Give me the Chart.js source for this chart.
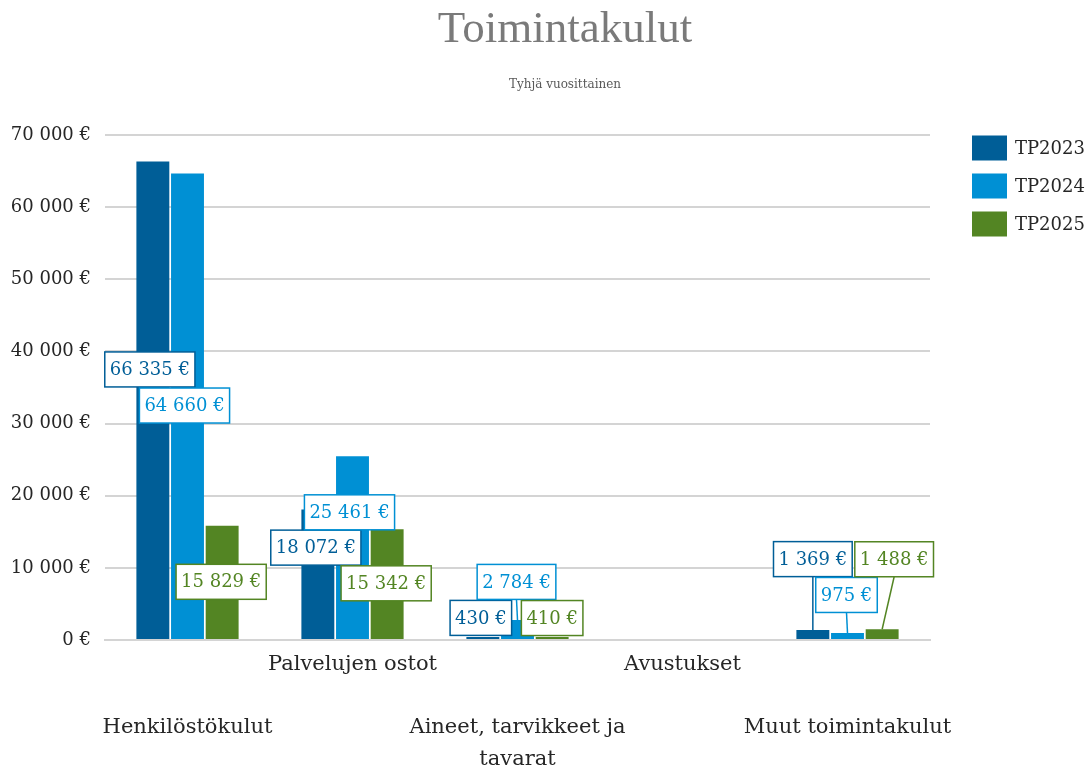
<!DOCTYPE html>
<html>
<head>
<meta charset="utf-8">
<script src="https://cdn.jsdelivr.net/npm/chart.js@4/dist/chart.umd.min.js"></script>
<style>
  html, body { margin: 0; padding: 0; background: #fff; }
  #wrap { width: 1088px; height: 768px; }
</style>
</head>
<body>
<div id="wrap"><canvas id="kulut"></canvas></div>
<script>
// Kategoriat ja arvot
const categories = ['Henkilöstökulut', 'Palvelujen ostot', ['Aineet, tarvikkeet ja', 'tavarat'], 'Avustukset', 'Muut toimintakulut'];
const tp2023 = [66335, 18072, 430, null, 1369];
const tp2024 = [64660, 25461, 2784, null, 975];
const tp2025 = [15829, 15342, 410, null, 1488];
const seriesNames = ['TP2023', 'TP2024', 'TP2025'];
const yTicks = [0, 10000, 20000, 30000, 40000, 50000, 60000, 70000];
const titleText = 'Toimintakulut';
const subtitleText = 'Tyhjä vuosittainen';

const colors = ['#005e97', '#0090d4', '#538523'];
const serif = '"DejaVu Serif", serif';
const titleSerif = '"Liberation Serif", serif';

// Arvolappujen siirrot pylvään yläreunasta (dx, dy, viiva)
const labelShift = [
    [[-3, 208], [-2, 38], [-2, -19], null, [0, -71, true]],
    [[-3, 232], [-3, 56], [-1, -38, true], null, [-1, -38, true]],
    [[-1, 56], [-1, 54], [0, -19], null, [12, -70, true]]
];

function euro(v) {
    return String(Math.round(v)).replace(/\B(?=(\d{3})+(?!\d))/g, ' ') + ' €';
}

// Laatikoidut arvolaput
const boxLabels = {
    id: 'boxLabels',
    afterDatasetsDraw(chart) {
        const ctx = chart.ctx;
        ctx.save();
        ctx.font = '18px ' + serif;
        ctx.textAlign = 'center';
        ctx.textBaseline = 'middle';
        chart.data.datasets.forEach((ds, i) => {
            const meta = chart.getDatasetMeta(i);
            meta.data.forEach((el, j) => {
                const v = ds.data[j];
                const s = labelShift[i][j];
                if (v == null || !s) return;
                const text = euro(v);
                const w = ctx.measureText(text).width + 10;
                const h = 35;
                const cx = el.x + s[0];
                const cy = el.y + s[1];
                ctx.strokeStyle = colors[i];
                ctx.lineWidth = 1.5;
                if (s[2]) {
                    ctx.beginPath();
                    ctx.moveTo(el.x, el.y);
                    ctx.lineTo(cx, cy + h / 2);
                    ctx.stroke();
                }
                ctx.fillStyle = '#fff';
                ctx.fillRect(cx - w / 2, cy - h / 2, w, h);
                ctx.strokeRect(cx - w / 2, cy - h / 2, w, h);
                ctx.fillStyle = colors[i];
                ctx.fillText(text, cx, cy + 1);
            });
        });
        ctx.restore();
    }
};

// Otsikot ja selite
const frame = {
    id: 'frame',
    afterDraw(chart) {
        const ctx = chart.ctx;
        const a = chart.chartArea;
        ctx.save();
        ctx.textAlign = 'center';
        ctx.textBaseline = 'alphabetic';
        ctx.fillStyle = '#7a7a7a';
        ctx.font = '45px ' + titleSerif;
        ctx.fillText(titleText, 565, 42);
        ctx.fillStyle = '#595959';
        ctx.font = '12px ' + serif;
        ctx.fillText(subtitleText, 565, 88);

        ctx.textAlign = 'left';
        ctx.textBaseline = 'middle';
        ctx.font = '18px ' + serif;
        chart.data.datasets.forEach((ds, i) => {
            const y = a.top + 13 + i * 38;
            ctx.fillStyle = colors[i];
            ctx.fillRect(a.right + 42, y - 12.5, 35, 25);
            ctx.fillStyle = '#262626';
            ctx.fillText(ds.label, a.right + 85, y + 1);
        });
        ctx.restore();
    }
};

new Chart(document.getElementById('kulut'), {
    type: 'bar',
    data: {
        labels: categories,
        datasets: [tp2023, tp2024, tp2025].map((d, i) => ({
            label: seriesNames[i],
            data: d,
            backgroundColor: colors[i],
            borderWidth: 0,
            categoryPercentage: 0.63,
            barPercentage: 0.95
        }))
    },
    options: {
        responsive: true,
        maintainAspectRatio: false,
        animation: false,
        events: [],
        layout: { padding: { left: 10, right: 158, top: 135, bottom: 0 } },
        plugins: {
            tooltip: { enabled: false },
            legend: { display: false },
            title: { display: false }
        },
        scales: {
            x: {
                grid: { display: false },
                border: { color: '#d4d4d4', width: 2 },
                afterFit(axis) { axis.height = 128; },
                ticks: {
                    autoSkip: false,
                    maxRotation: 0,
                    padding: 1,
                    color: '#262626',
                    font: { family: serif, size: 21, lineHeight: 1.5 },
                    callback(v, i) {
                        const c = categories[i];
                        const lines = Array.isArray(c) ? c : [c];
                        return i % 2 === 0 ? ['', '', ...lines] : lines;
                    }
                }
            },
            y: {
                min: 0,
                max: 70000,
                afterBuildTicks(axis) { axis.ticks = yTicks.map(v => ({ value: v })); },
                afterFit(axis) { axis.width = 95; },
                grid: { color: '#d4d4d4', lineWidth: 2, drawTicks: false },
                border: { display: false },
                ticks: {
                    padding: 14,
                    color: '#262626',
                    font: { family: serif, size: 18 },
                    callback: v => euro(v)
                }
            }
        }
    },
    plugins: [boxLabels, frame]
});
</script>
</body>
</html>
